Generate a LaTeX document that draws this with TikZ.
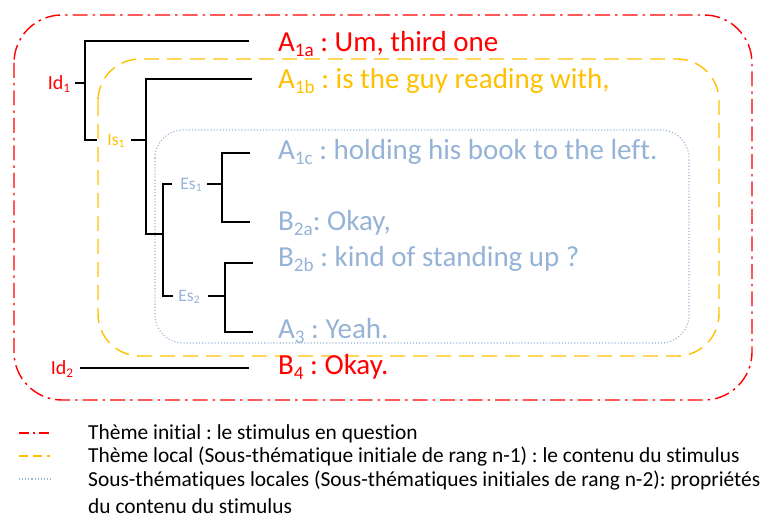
\documentclass[tikz,border=0pt]{standalone}
\usepackage{fontspec}
\setmainfont{Carlito}[Ligatures=NoCommon]
\definecolor{cred}{RGB}{255,0,0}
\definecolor{cyel}{RGB}{255,192,0}
\definecolor{cblu}{RGB}{149,179,215}
\newcommand{\sbx}[1]{\raisebox{-0.14em}{\scalebox{0.66}{#1}}}
\frenchspacing
\begin{document}
\begin{tikzpicture}[x=1pt,y=-1pt,
  redline/.style={cred,line width=1.4pt,dash pattern=on 15pt off 5pt on 2.5pt off 5pt},
  yelline/.style={cyel,line width=1.4pt,dash pattern=on 15pt off 8pt},
  bluline/.style={cblu,line width=1.1pt,dash pattern=on 1.1pt off 2pt},
  tree/.style={black,line width=1.3pt},
  utter/.style={anchor=base west,inner sep=0pt,font=\fontsize{29}{33}\selectfont},
  lab/.style={inner sep=0pt,font=\fontsize{20}{24}\selectfont},
  slab/.style={inner sep=0pt,font=\fontsize{17.5}{21}\selectfont},
  leg/.style={anchor=base west,inner sep=0pt,font=\fontsize{21.4}{25}\selectfont}]
\useasboundingbox (0,0) rectangle (764,518);
% boxes
\draw[redline,rounded corners=48pt] (14,15) rectangle (752,400);
\draw[yelline,rounded corners=42pt] (98,59) rectangle (719,356);
\draw[bluline,rounded corners=28pt] (155,130) rectangle (689,343);
% utterances
\node[utter,text=cred] (ua1a) at (278,52) {A\sbx{1a} : Um, third one};
\node[utter,text=cyel] (ua1b) at (278,89) {A\sbx{1b} : is the guy reading with,};
\node[utter,text=cblu] (ua1c) at (278,160) {A\sbx{1c} : holding his book to the left.};
\node[utter,text=cblu] (ub2a) at (278,231) {B\sbx{2a}: Okay,};
\node[utter,text=cblu] (ub2b) at (278,267) {B\sbx{2b} : kind of standing up ?};
\node[utter,text=cblu] (ua3) at (278,339) {A\sbx{3} : Yeah.};
\node[utter,text=cred] (ub4) at (278,375) {B\sbx{4} : Okay.};
% labels
\node[lab,text=cred] (id1) at (59,84) {Id\sbx{1}};
\node[lab,text=cred] (id2) at (62,369) {Id\sbx{2}};
\node[slab,text=cyel] (is1) at (116,141) {Is\sbx{1}};
\node[slab,text=cblu] (es1) at (191,185) {Es\sbx{1}};
\node[slab,text=cblu] (es2) at (189,297) {Es\sbx{2}};
% tree coordinates
\coordinate (t1a) at (249,41);
\coordinate (t1b) at (252,79);
\coordinate (t1c) at (250,153);
\coordinate (t2a) at (250,222);
\coordinate (t2b) at (253,263);
\coordinate (t3) at (253,332);
\coordinate (t4) at (249,368);
% Id1
\draw[tree] (75,83) -- (85,83);
\draw[tree] (t1a) -| (85,140) -- (97,140);
% Is1
\draw[tree] (131,140) -- (146,140);
\draw[tree] (t1b) -| (146,234) -- (163,234);
\draw[tree] (172,184) -| (163,296) -- (173,296);
% Es1
\draw[tree] (207,184) -- (222,184);
\draw[tree] (t1c) -| (222,222) -- (t2a);
% Es2
\draw[tree] (208,296) -- (225,296);
\draw[tree] (t2b) -| (225,332) -- (t3);
% Id2
\draw[tree] (80,368) -- (t4);
% legend
\coordinate (lr0) at (19,433); \coordinate (lr1) at (50,433);
\coordinate (ly0) at (19,456); \coordinate (ly1) at (50,456);
\coordinate (lb0) at (19,479); \coordinate (lb1) at (51,479);
\draw[cred,line width=1.4pt,dash pattern=on 10pt off 4pt on 2pt off 4pt] (lr0) -- (lr1);
\draw[cyel,line width=1.4pt,dash pattern=on 9pt off 5pt] (ly0) -- (ly1);
\draw[bluline] (lb0) -- (lb1);
\node[leg] (lt1) at (88,440) {Thème initial : le stimulus en question};
\node[leg] (lt2) at (88,463) {Thème local (Sous-thématique initiale de rang n-1) : le contenu du stimulus};
\node[leg] (lt3) at (88,487) {Sous-thématiques locales (Sous-thématiques initiales de rang n-2): propriétés};
\node[leg] (lt4) at (88,514) {du contenu du stimulus};
\end{tikzpicture}
\end{document}
